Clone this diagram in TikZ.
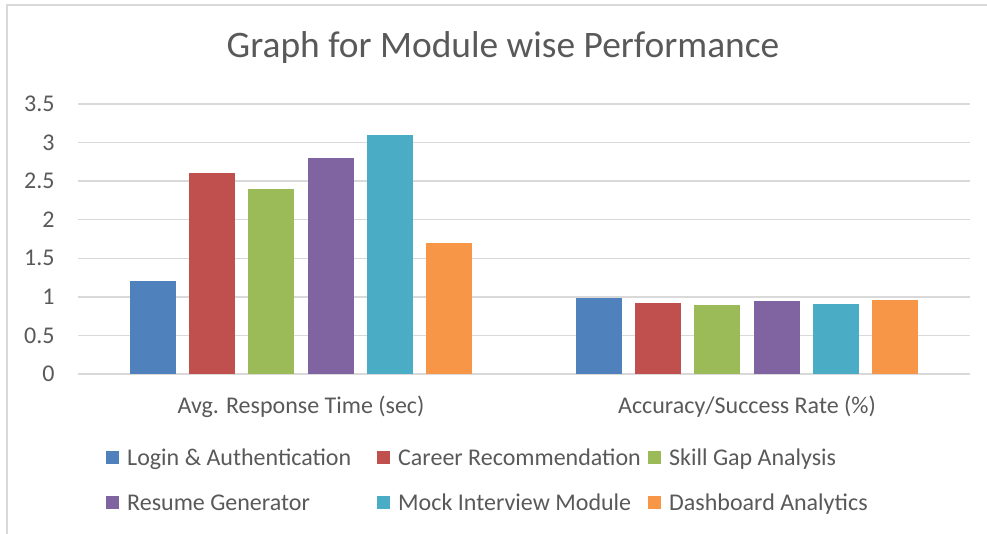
\documentclass[tikz,border=0pt]{standalone}
\usepackage{fontspec}
\setmainfont{Carlito}
\usepackage{tikz}
\usetikzlibrary{positioning}

\definecolor{txtgray}{HTML}{595959}
\definecolor{gridgray}{HTML}{D9D9D9}
\definecolor{modblue}{HTML}{4F81BD}
\definecolor{modred}{HTML}{C0504D}
\definecolor{modgreen}{HTML}{9BBB59}
\definecolor{modpurple}{HTML}{8064A2}
\definecolor{modcyan}{HTML}{4BACC6}
\definecolor{modorange}{HTML}{F79646}

\tikzset{
  lbl/.style={text=txtgray, font=\fontsize{12}{14}\selectfont, inner sep=0pt},
  legtxt/.style={lbl, text height=7.7pt, text depth=0pt},
  legkey/.style={minimum size=6.5pt, inner sep=0pt}
}

\begin{document}
\begin{tikzpicture}[x=0.5pt,y=0.5pt]
  \useasboundingbox (0,0) rectangle (987,534);
  % frame
  \draw[gridgray, line width=1pt] (7,0) -- (7,529) -- (987,529);
  % title
  \node[text=txtgray, font=\fontsize{18.7}{22}\selectfont] (title) at (503,486) {Graph for Module wise Performance};
  % grid and axis values
  \foreach \v [count=\k from 0] in {0,0.5,1,1.5,2,2.5,3,3.5} {
    \draw[gridgray, line width=0.75pt] (78,{160+\k*38.57}) -- (970,{160+\k*38.57});
    \node[lbl, anchor=east] (tick\k) at (55,{160+\k*38.57}) {\v};
  }
  % bars
  \foreach \i/\c/\va/\vb in {0/modblue/1.2/0.98, 1/modred/2.6/0.92, 2/modgreen/2.4/0.90,
                             3/modpurple/2.8/0.94, 4/modcyan/3.1/0.91, 5/modorange/1.7/0.96} {
    \fill[\c] ({129.7+\i*59.3},160) rectangle ++(46,{\va*77.14});
    \fill[\c] ({575.7+\i*59.3},160) rectangle ++(46,{\vb*77.14});
  }
  % categories
  \node[lbl] (catone) at (301,127) {Avg. Response Time (sec)};
  \node[lbl] (cattwo) at (747,127) {Accuracy/Success Rate (\%)};
  % legend
  \foreach \n/\c/\x/\y/\name in {a/modblue/106/76/Login \& Authentication,
                                  b/modred/377/76/Career Recommendation,
                                  c/modgreen/648/76/Skill Gap Analysis,
                                  d/modpurple/106/31/Resume Generator,
                                  e/modcyan/377/31/Mock Interview Module,
                                  f/modorange/648/31/Dashboard Analytics} {
    \node[legkey, fill=\c, anchor=west] (key\n) at (\x,\y) {};
    \node[legtxt, right=3.5pt of key\n] (leg\n) {\name};
  }
\end{tikzpicture}
\end{document}
